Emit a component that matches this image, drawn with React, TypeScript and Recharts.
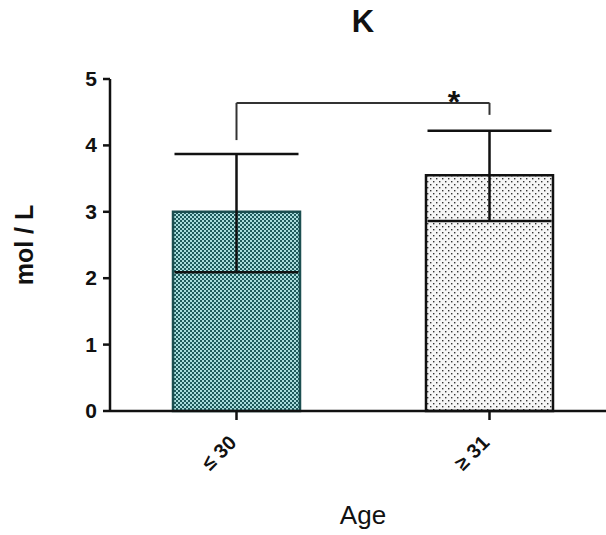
import { BarChart, Bar, XAxis, YAxis, ErrorBar, ReferenceLine, Label } from 'recharts'

const categories = ['≤ 30', '≥ 31']
const means = [3.0, 3.55]
const errLow = [0.91, 0.69]
const errHigh = [0.87, 0.67]
const yTicks = [0, 1, 2, 3, 4, 5]
const bracketTop = 4.64
const bracketLeftFoot = 4.08
const bracketRightFoot = 4.46

const FILLS = ['url(#checkTeal)', 'url(#dotsWhite)']
const STROKES = ['#1c4f51', '#111111']

const data = categories.map((name, i) => ({
  name,
  value: means[i],
  err: [errLow[i], errHigh[i]],
  fill: FILLS[i],
  stroke: STROKES[i],
}))

const FONT = '"Liberation Sans", Arial, sans-serif'

function AngledTick({ x, y, payload }: any) {
  return (
    <text
      x={x + 1}
      y={y + 22}
      transform={`rotate(-45, ${x + 1}, ${y + 22})`}
      textAnchor="end"
      fontFamily={FONT}
      fontWeight="bold"
      fontSize={20}
      fill="#111"
    >
      {payload.value}
    </text>
  )
}

function YTick({ x, y, payload }: any) {
  return (
    <text
      x={x}
      y={y + 7}
      textAnchor="end"
      fontFamily={FONT}
      fontWeight="bold"
      fontSize={21}
      fill="#111"
    >
      {payload.value}
    </text>
  )
}

export default function App() {
  return (
    <div style={{ position: 'relative', width: 606, height: 535, overflow: 'hidden', background: '#fff' }}>
      <style>{`body{margin:0;overflow:hidden}`}</style>
      <div
        style={{
          position: 'absolute',
          left: 0,
          width: 726,
          top: 4,
          textAlign: 'center',
          fontFamily: FONT,
          fontWeight: 'bold',
          fontSize: 31,
          color: '#111',
        }}
      >
        K
      </div>
      <BarChart
        width={620}
        height={535}
        data={data}
        margin={{ top: 79, right: 4, bottom: 0, left: 10 }}
        barCategoryGap={0}
      >
        <defs>
          <pattern id="checkTeal" width={4} height={4} patternUnits="userSpaceOnUse">
            <rect x={0} y={0} width={4} height={4} fill="#a9dcdc" />
            <rect x={0} y={0} width={2} height={2} fill="#1f5a5c" />
            <rect x={2} y={2} width={2} height={2} fill="#1f5a5c" />
          </pattern>
          <pattern id="dotsWhite" width={6} height={6} patternUnits="userSpaceOnUse">
            <rect x={0} y={0} width={6} height={6} fill="#f6f6f6" />
            <rect x={1} y={1} width={1.4} height={1.4} fill="#333" />
            <rect x={4} y={4} width={1.4} height={1.4} fill="#333" />
          </pattern>
        </defs>
        <XAxis
          dataKey="name"
          height={124}
          axisLine={{ stroke: '#111', strokeWidth: 2.5 }}
          tickLine={{ stroke: '#111', strokeWidth: 2.5 }}
          tickSize={9}
          tick={<AngledTick />}
          interval={0}
        >
          <Label
            content={({ viewBox }: any) => (
              <text
                x={viewBox.x + viewBox.width / 2}
                y={viewBox.y + 113}
                textAnchor="middle"
                fontFamily={FONT}
                fontSize={26}
                fill="#111"
              >
                Age
              </text>
            )}
          />
        </XAxis>
        <YAxis
          width={100}
          domain={[0, 5]}
          ticks={yTicks}
          interval={0}
          axisLine={{ stroke: '#111', strokeWidth: 2.5 }}
          tickLine={{ stroke: '#111', strokeWidth: 2.5 }}
          tickSize={7}
          tickMargin={6}
          tick={<YTick />}
        >
          <Label
            content={({ viewBox }: any) => {
              const cx = viewBox.x + 23
              const cy = viewBox.y + viewBox.height / 2
              return (
                <text
                  x={cx}
                  y={cy}
                  transform={`rotate(-90, ${cx}, ${cy})`}
                  textAnchor="middle"
                  fontFamily={FONT}
                  fontWeight="bold"
                  fontSize={25}
                  fill="#111"
                >
                  mol / L
                </text>
              )
            }}
          />
        </YAxis>
        <Bar dataKey="value" barSize={127} strokeWidth={2.5} isAnimationActive={false}>
          <ErrorBar dataKey="err" width={62} stroke="#111" strokeWidth={2.5} isAnimationActive={false} />
        </Bar>
        <ReferenceLine
          segment={[
            { x: categories[0], y: bracketLeftFoot },
            { x: categories[0], y: bracketTop },
          ]}
          stroke="#333"
          strokeWidth={2}
        />
        <ReferenceLine
          segment={[
            { x: categories[1], y: bracketRightFoot },
            { x: categories[1], y: bracketTop },
          ]}
          stroke="#333"
          strokeWidth={2}
        />
        <ReferenceLine
          segment={[
            { x: categories[0], y: bracketTop },
            { x: categories[1], y: bracketTop },
          ]}
          stroke="#333"
          strokeWidth={2}
          label={(props: any) => {
            const vb = props.viewBox
            return (
              <text
                x={vb.x + vb.width * 0.86}
                y={vb.y + 10}
                textAnchor="middle"
                fontFamily={FONT}
                fontWeight="bold"
                fontSize={32}
                fill="#111"
              >
                *
              </text>
            )
          }}
        />
      </BarChart>
    </div>
  )
}
